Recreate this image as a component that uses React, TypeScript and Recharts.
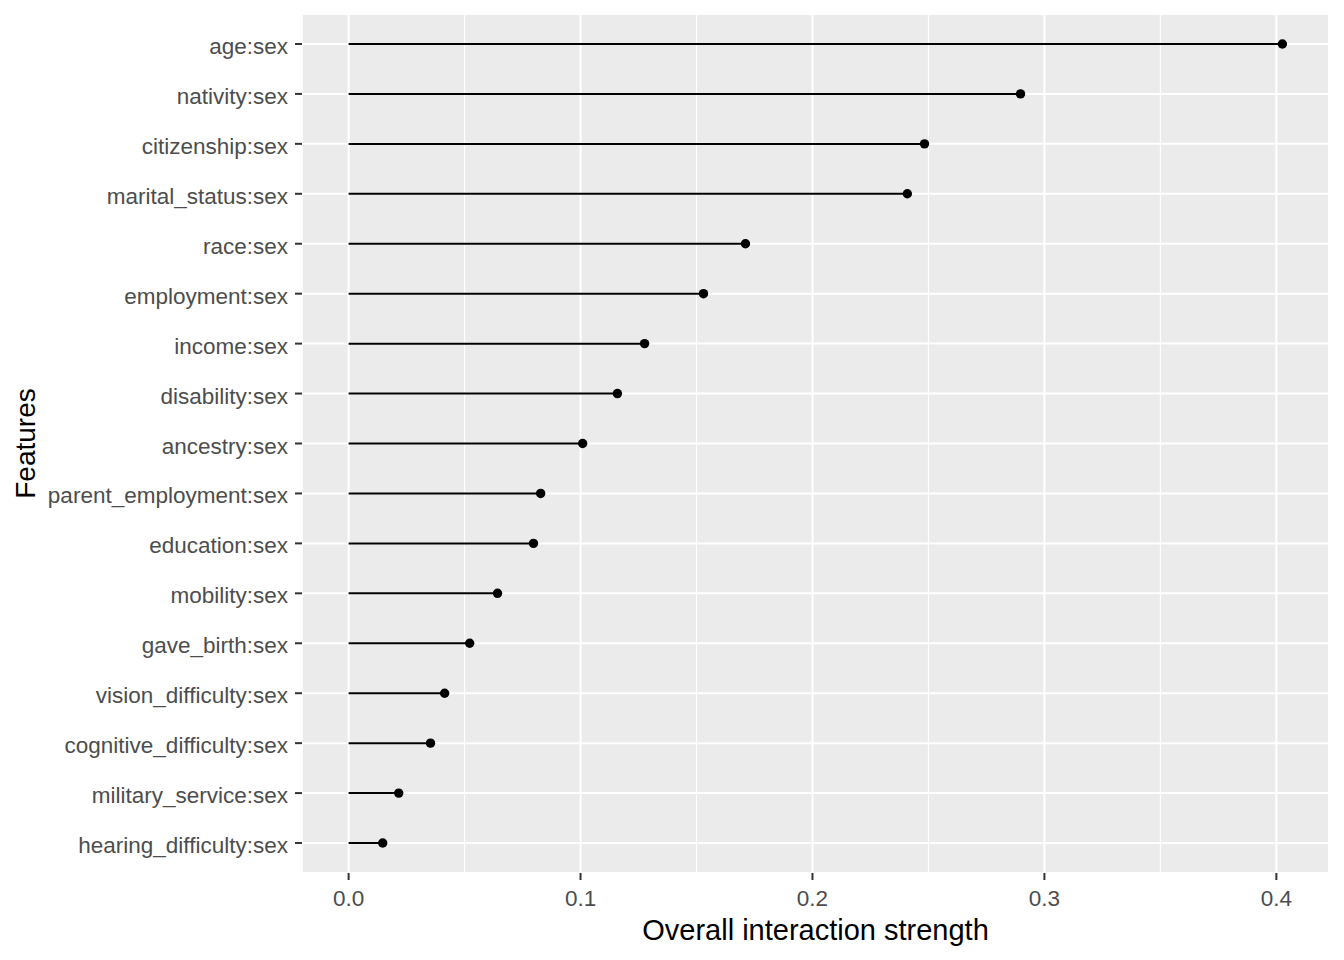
import React from 'react';
import { ComposedChart, Bar, Line, XAxis, YAxis, CartesianGrid } from 'recharts';

const features = [
  'age:sex',
  'nativity:sex',
  'citizenship:sex',
  'marital_status:sex',
  'race:sex',
  'employment:sex',
  'income:sex',
  'disability:sex',
  'ancestry:sex',
  'parent_employment:sex',
  'education:sex',
  'mobility:sex',
  'gave_birth:sex',
  'vision_difficulty:sex',
  'cognitive_difficulty:sex',
  'military_service:sex',
  'hearing_difficulty:sex',
];

const strengths = [
  0.4026, 0.2897, 0.2483, 0.2409, 0.1711, 0.153, 0.1276, 0.1159, 0.1009, 0.0828, 0.0797,
  0.0642, 0.0522, 0.0414, 0.0353, 0.0216, 0.0147,
];

const xTicks = [0, 0.1, 0.2, 0.3, 0.4];
const minorTicks = [0.05, 0.15, 0.25, 0.35];
const xDomain = [-0.0201, 0.4227];

const data = features.map((f, i) => ({ feature: f, value: strengths[i] }));

const FONT = '"Liberation Sans", Arial, Helvetica, sans-serif';

const YTick = (props: any) => {
  const { x, y, payload } = props;
  return (
    <text x={x} y={y} dy={10} textAnchor="end" fill="#4D4D4D" fontSize={22.5} fontFamily={FONT}>
      {payload.value}
    </text>
  );
};

const XTick = (props: any) => {
  const { x, y, payload } = props;
  return (
    <text x={x} y={y} dy={26} textAnchor="middle" fill="#4D4D4D" fontSize={22.5} fontFamily={FONT}>
      {Number(payload.value).toFixed(1)}
    </text>
  );
};

const YLabel = (props: any) => {
  const vb = props.viewBox || { x: 0, y: 14, width: 302, height: 859 };
  const cy = vb.y + vb.height / 2;
  const x = 35;
  return (
    <text
      x={x}
      y={cy}
      textAnchor="middle"
      transform={`rotate(-90, ${x}, ${cy})`}
      fill="#000000"
      fontSize={28}
      fontFamily={FONT}
    >
      Features
    </text>
  );
};

export default function App() {
  return (
    <div style={{ position: 'absolute', left: 0, top: 0, width: 1344, height: 960, background: '#fff', fontFamily: FONT }}>
      <ComposedChart
        width={1344}
        height={960}
        data={data}
        layout="vertical"
        margin={{ top: 14, right: 15, bottom: 0, left: 0 }}
      >
        <CartesianGrid
          fill="#EBEBEB"
          horizontal={false}
          verticalValues={minorTicks}
          stroke="#FFFFFF"
          strokeWidth={1.1}
        />
        <CartesianGrid fill="none" stroke="#FFFFFF" strokeWidth={2} />
        <XAxis
          type="number"
          domain={xDomain}
          allowDataOverflow
          ticks={xTicks}
          interval={0}
          height={87}
          axisLine={false}
          tickLine={{ stroke: '#333333', strokeWidth: 2 }}
          tickSize={7}
          tickMargin={0}
          tick={<XTick />}
          label={{
            value: 'Overall interaction strength',
            position: 'insideBottom',
            offset: 20.5,
            fill: '#000000',
            fontSize: 29,
            fontFamily: FONT,
          }}
        />
        <YAxis
          type="category"
          dataKey="feature"
          width={302}
          interval={0}
          padding={{ top: 5, bottom: 5 }}
          axisLine={false}
          tickLine={{ stroke: '#333333', strokeWidth: 2 }}
          tickSize={7}
          tickMargin={7}
          tick={<YTick />}
          label={{ content: <YLabel /> }}
        />
        <Bar dataKey="value" barSize={2} fill="#000000" isAnimationActive={false} />
        <Line
          dataKey="value"
          stroke="none"
          dot={{ r: 4.7, fill: '#000000', stroke: 'none' }}
          activeDot={false}
          isAnimationActive={false}
        />
      </ComposedChart>
    </div>
  );
}
